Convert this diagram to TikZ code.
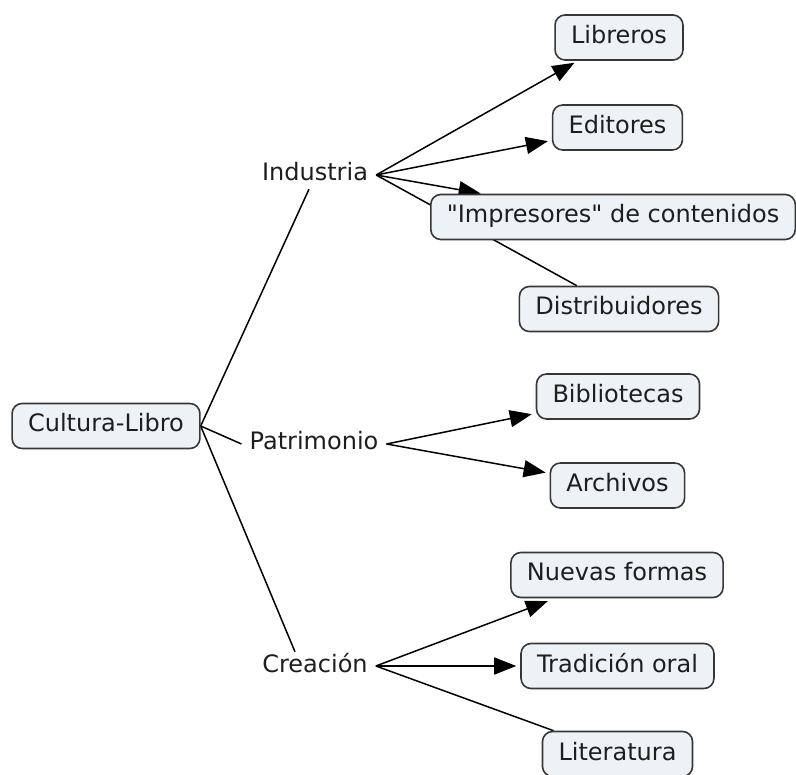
\documentclass[tikz,border=0pt]{standalone}
\usepackage{fontspec}
\newfontfamily\dvfont{DejaVu Sans}
\usetikzlibrary{arrows.meta,calc}
\pgfdeclarelayer{bg}
\pgfsetlayers{bg,main}
\definecolor{boxfill}{RGB}{236,242,245}
\definecolor{boxborder}{RGB}{55,55,55}
\definecolor{txt}{RGB}{30,30,30}
\begin{document}
\begin{tikzpicture}[x=1pt,y=-1pt,
  concept/.style={draw=boxborder,fill=boxfill,line width=1.6pt,rounded corners=10pt,
    inner xsep=16pt,inner ysep=0pt,minimum height=45pt,text=txt,
    font=\dvfont\fontsize{24}{28}\selectfont,text height=17pt,text depth=5pt},
  linkword/.style={inner xsep=8pt,inner ysep=3pt,text=txt,
    font=\dvfont\fontsize{24}{28}\selectfont,text height=17pt,text depth=5pt},
  arr/.style={line width=1.5pt,-{Triangle[length=22pt,width=17pt]},shorten >=4pt},
  conn/.style={line width=1.5pt}]
\useasboundingbox (0,0) rectangle (796,775);
\begin{pgfonlayer}{bg}
\fill[white] (0,0) rectangle (796,775);
\end{pgfonlayer}
\clip (0,0) rectangle (796,775);

\node[concept] (cl) at (106,426) {Cultura-Libro};
\node[linkword] (ind) at (315,175) {Industria};
\node[linkword] (pat) at (314,444) {Patrimonio};
\node[linkword] (cre) at (315,666) {Creación};

\node[concept] (lib) at (619,37.5) {Libreros};
\node[concept] (edi) at (617.5,127.5) {Editores};
\node[concept,anchor=west] (imp) at (430,217) {"Impresores" de contenidos};
\node[concept] (dis) at (619,309) {Distribuidores};
\node[concept] (bib) at (618,396.5) {Bibliotecas};
\node[concept] (arc) at (617.5,485.5) {Archivos};
\node[concept] (nue) at (617,575) {Nuevas formas};
\node[concept] (tra) at (617.5,666) {Tradición oral};
\node[concept] (lit) at (617.5,754) {Literatura};

\begin{pgfonlayer}{bg}
\draw[conn] (cl.east) -- ([xshift=-6pt]ind.south);
\draw[conn] (cl.east) -- (pat.west);
\draw[conn] (cl.east) -- ([xshift=-20pt]cre.north);

\draw[arr] (ind.east) -- (lib);
\draw[arr] (ind.east) -- (edi);
\draw[arr,shorten >=1pt] (ind.east) -- (imp);
\draw[conn] (ind.east) -- (dis);

\draw[arr] (pat.east) -- (bib);
\draw[arr] (pat.east) -- (arc);

\draw[arr,shorten >=8pt] (cre.east) -- (nue);
\draw[arr] (cre.east) -- (tra);
\draw[conn] (cre.east) -- (lit);
\end{pgfonlayer}
\end{tikzpicture}
\end{document}
